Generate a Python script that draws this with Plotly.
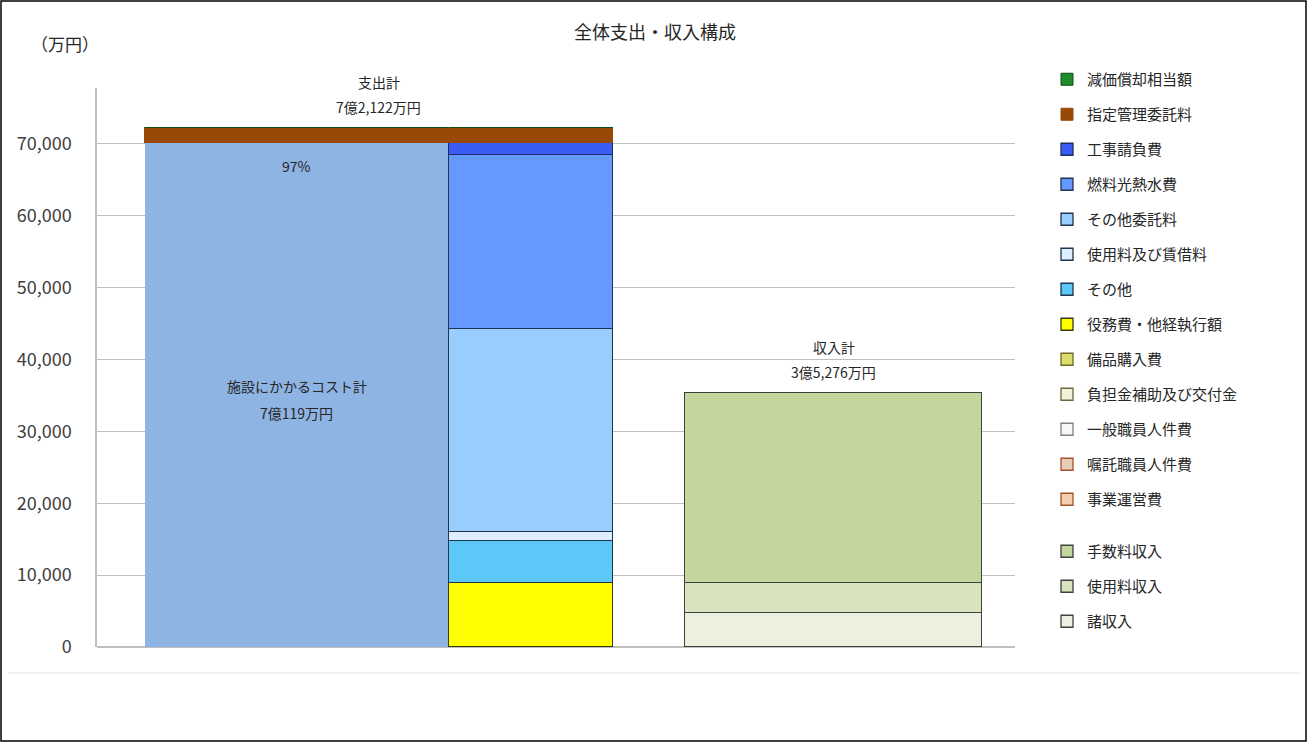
import plotly.graph_objects as go

# ---------------- data (単位: 万円) ----------------
title_text = "全体支出・収入構成"
unit_text = "（万円）"

cost_total_name = "施設にかかるコスト計"
cost_total_value = 70119

# breakdown of the facility cost, stacked bottom -> top
expense_names = ["事業運営費", "嘱託職員人件費", "一般職員人件費", "負担金補助及び交付金",
                 "備品購入費", "役務費・他経執行額", "その他", "使用料及び賃借料",
                 "その他委託料", "燃料光熱水費", "工事請負費"]
expense_values = [0, 0, 0, 0, 0, 8860, 5840, 1300, 28230, 24200, 1689]

mgmt_name = "指定管理委託料"
mgmt_value = 2003
dep_name = "減価償却相当額"
dep_value = 0

income_names = ["諸収入", "使用料収入", "手数料収入"]
income_values = [4770, 4090, 26416]

expense_total_label = "支出計"
income_total_label = "収入計"

y_ticks = [0, 10000, 20000, 30000, 40000, 50000, 60000, 70000]

# ---------------- styles ----------------
expense_colors = ["#F2CDB0", "#E8CDB8", "#F7F7F7", "#F2F2DC", "#DCDC70", "#FFFF00",
                  "#5BC8F7", "#DDEEFF", "#99CCFF", "#6699FF", "#3A5CF2"]
expense_line = ["#A0522D", "#A0522D", "#808080", "#6B6B3A", "#6B6B20", "#3A3A10",
                "#1F3550", "#1F3550", "#1F3550", "#1F3550", "#1F2D60"]
mgmt_color = "#984807"
dep_color = "#1E8C2A"
cost_color = "#8EB4E3"
income_colors = ["#EBF1DE", "#D7E4BD", "#C3D69B"]
income_line = "#404040"

FONT = "Noto Sans CJK JP"
TXT = "#262626"

W, H = 1307, 742
L, R, T, B = 97, 1015, 88, 647   # plot area in pixels
PX_PER_10K = 71.9
def px(x):   # pixel x -> paper
    return (x - L) / (R - L)
def py(y):   # pixel y -> paper
    return (B - y) / (B - T)

# bar geometry (x axis runs 0..918, same as pixels inside plot area)
X_LEFT, W_LEFT = 199.5, 303
X_MID, W_MID = 433.5, 164
X_INC, W_INC = 736.5, 297

fig = go.Figure()

# facility cost total (left wide bar)
fig.add_trace(go.Bar(x=[X_LEFT], y=[cost_total_value], width=[W_LEFT],
                     marker=dict(color=cost_color, line=dict(width=0)),
                     name=cost_total_name, showlegend=False, hoverinfo="skip"))

n_exp = len(expense_names)
# breakdown
for i, (n, v) in enumerate(zip(expense_names, expense_values)):
    fig.add_trace(go.Bar(x=[X_MID], y=[v], width=[W_MID], name=n,
                         marker=dict(color=expense_colors[i],
                                     line=dict(color=expense_line[i], width=1.3)),
                         legend="legend", legendgroup=n, legendrank=100 + (n_exp - i) * 10 + 20,
                         hoverinfo="name+y"))

fig.add_trace(go.Bar(x=[X_LEFT, X_MID], y=[mgmt_value, mgmt_value], width=[W_LEFT, W_MID],
                     name=mgmt_name, marker=dict(color=mgmt_color, line=dict(color=mgmt_color, width=1)),
                     legend="legend", legendgroup=mgmt_name, legendrank=120, hoverinfo="name+y"))
fig.add_trace(go.Bar(x=[X_LEFT, X_MID], y=[dep_value, dep_value], width=[W_LEFT, W_MID],
                     name=dep_name, marker=dict(color=dep_color, line=dict(color="#0F5015", width=1)),
                     legend="legend", legendgroup=dep_name, legendrank=110, hoverinfo="name+y"))

# income
for i, (n, v) in enumerate(zip(income_names, income_values)):
    fig.add_trace(go.Bar(x=[X_INC], y=[v], width=[W_INC], name=n,
                         marker=dict(color=income_colors[i], line=dict(color=income_line, width=1.3)),
                         legend="legend2", legendgroup=n, legendrank=100 + (3 - i) * 10,
                         hoverinfo="name+y"))

def oku(v):
    return f"{v // 10000}億{v % 10000:,}万円" if v >= 10000 else f"{v:,}万円"

expense_total = cost_total_value + mgmt_value
income_total = sum(income_values)
share = round(cost_total_value / expense_total * 100)

ann = []
fs = 14
tf = dict(family=FONT, size=fs, color=TXT)
x_exp = (X_LEFT - W_LEFT / 2 + X_MID + W_MID / 2) / 2
# 支出計
ann.append(dict(x=x_exp, y=expense_total, xref="x", yref="y", text=expense_total_label,
                showarrow=False, yanchor="bottom", yshift=34, font=tf))
ann.append(dict(x=x_exp, y=expense_total, xref="x", yref="y", text=oku(expense_total),
                showarrow=False, yanchor="bottom", yshift=9, font=tf))
# 収入計
ann.append(dict(x=X_INC, y=income_total, xref="x", yref="y", text=income_total_label,
                showarrow=False, yanchor="bottom", yshift=34, font=tf))
ann.append(dict(x=X_INC, y=income_total, xref="x", yref="y", text=oku(income_total),
                showarrow=False, yanchor="bottom", yshift=9, font=tf))
# 97%
ann.append(dict(x=X_LEFT, y=cost_total_value, xref="x", yref="y", text=f"{share}%",
                showarrow=False, yanchor="top", yshift=-11, font=tf))
# facility cost label
ann.append(dict(x=X_LEFT, y=cost_total_value / 2 + 1200, xref="x", yref="y",
                text=cost_total_name, showarrow=False, yanchor="middle", font=tf))
ann.append(dict(x=X_LEFT, y=cost_total_value / 2 + 1200, xref="x", yref="y",
                text=oku(cost_total_value), showarrow=False, yanchor="middle", yshift=-27, font=tf))
# unit
ann.append(dict(x=px(65), y=py(43), xref="paper", yref="paper", text=unit_text,
                showarrow=False, xanchor="center", yanchor="middle",
                font=dict(family=FONT, size=17, color=TXT)))

shapes = [
    dict(type="rect", xref="paper", yref="paper", x0=px(1), x1=px(1306), y0=py(741), y1=py(1),
         line=dict(color="#000000", width=1.5), fillcolor="rgba(0,0,0,0)", layer="above"),
    dict(type="line", xref="paper", yref="paper", x0=px(8), x1=px(1300), y0=py(673), y1=py(673),
         line=dict(color="#EDEDED", width=1.5), layer="below"),
]

leg_common = dict(xanchor="left", yanchor="top", traceorder="grouped", tracegroupgap=12.5,
                  font=dict(family=FONT, size=15, color=TXT), bgcolor="rgba(0,0,0,0)",
                  maxheight=700)

fig.update_layout(
    width=W, height=H,
    margin=dict(l=L, r=W - R, t=T, b=H - B, pad=0),
    paper_bgcolor="white", plot_bgcolor="white",
    barmode="stack", bargap=0,
    title=dict(text=title_text, x=655 / W, xanchor="center", y=1 - 33 / H, yanchor="middle",
               font=dict(family=FONT, size=18, color=TXT)),
    xaxis=dict(range=[0, R - L], visible=False, fixedrange=True),
    yaxis=dict(range=[0, (B - T) / PX_PER_10K * 10000], tickvals=y_ticks, tickformat=",",
               showgrid=True, gridcolor="#BFBFBF", gridwidth=1.2,
               showline=True, linecolor="#BFBFBF", linewidth=1.5,
               zeroline=True, zerolinecolor="#BFBFBF", zerolinewidth=2,
               ticks="", ticklabelstandoff=20,
               tickfont=dict(family=FONT, size=18, color="#404040")),
    legend=dict(x=px(1047), y=py(63), **leg_common),
    legend2=dict(x=px(1047), y=py(535), **leg_common),
    annotations=ann,
    shapes=shapes,
    showlegend=True,
)

fig.write_html("out.html", config={"displayModeBar": False},
               post_script="document.body.style.margin='0';")
